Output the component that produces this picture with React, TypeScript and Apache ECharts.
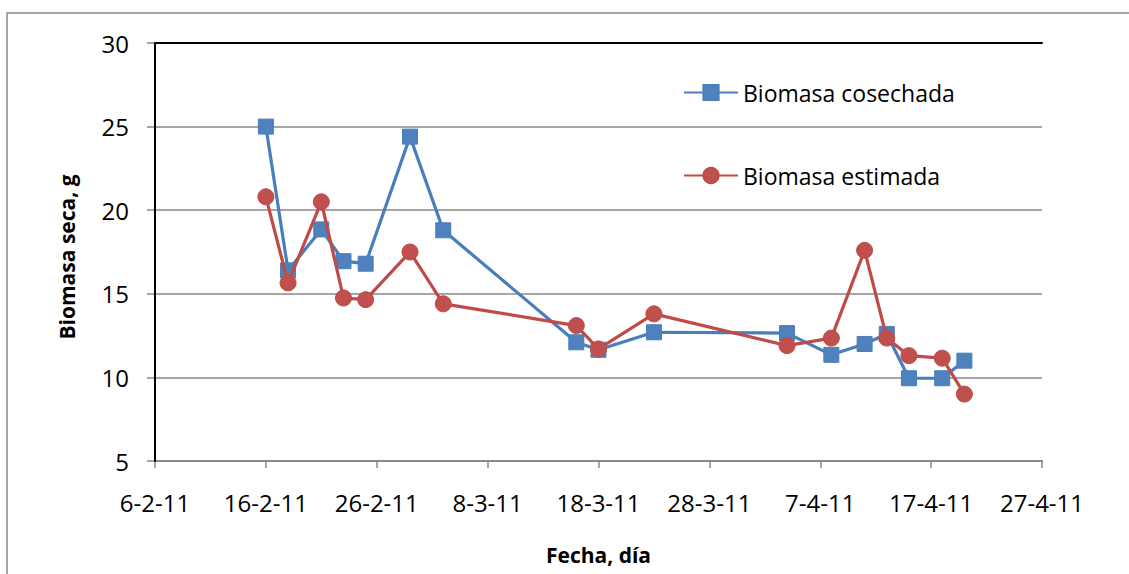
import React, { useEffect, useRef } from "react";
import * as echarts from "echarts";

const dates = ["16-2-11", "18-2-11", "21-2-11", "23-2-11", "25-2-11", "1-3-11", "4-3-11", "16-3-11", "18-3-11", "23-3-11", "4-4-11", "8-4-11", "11-4-11", "13-4-11", "15-4-11", "18-4-11", "20-4-11"];
const cosechada = [25.0, 16.4, 18.85, 16.95, 16.8, 24.4, 18.8, 12.1, 11.65, 12.7, 12.65, 11.35, 12.0, 12.6, 9.95, 9.95, 11.0];
const estimada = [20.8, 15.65, 20.5, 14.75, 14.65, 17.5, 14.4, 13.1, 11.7, 13.8, 11.9, 12.35, 17.6, 12.35, 11.3, 11.15, 9.0];
const seriesNames = ["Biomasa cosechada", "Biomasa estimada"];
const xStart = "6-2-11";
const xEnd = "27-4-11";
const xStepDays = 10;
const yMin = 5;
const yMax = 30;
const yStep = 5;

const BASE = Date.UTC(2011, 1, 6);
const DAY = 86400000;
function toDay(s: string): number {
  const [d, m, y] = s.split("-").map(Number);
  return Math.round((Date.UTC(2000 + y, m - 1, d) - BASE) / DAY);
}
function fmt(v: number): string {
  const dt = new Date(BASE + v * DAY);
  return `${dt.getUTCDate()}-${dt.getUTCMonth() + 1}-${String(dt.getUTCFullYear()).slice(2)}`;
}

const FONT = "Open Sans";
const GRAY = "#898989";

export default function App() {
  const ref = useRef<HTMLDivElement>(null);
  useEffect(() => {
    if (!ref.current) return;
    const chart = echarts.init(ref.current, undefined, { renderer: "svg" });
    const xs = dates.map(toDay);
    const frameAxisX = {
      type: "value",
      position: "top",
      min: toDay(xStart),
      max: toDay(xEnd),
      interval: xStepDays,
      z: 1,
      axisLine: { show: true, lineStyle: { color: "#000", width: 2 } },
      axisTick: { show: false },
      axisLabel: { show: false },
      splitLine: { show: false },
    };
    const frameAxisY = {
      type: "value",
      position: "right",
      min: yMin,
      max: yMax,
      interval: yStep,
      z: 1,
      axisLine: { show: true, lineStyle: { color: "#000", width: 2 } },
      axisTick: { show: false },
      axisLabel: { show: false },
      splitLine: { show: false },
    };
    const legendBase = {
      left: 683,
      padding: 0,
      itemWidth: 54,
      itemHeight: 19,
      itemGap: 0,
      textStyle: { fontFamily: FONT, fontSize: 23, color: "#000" },
    };
    chart.setOption({
      animation: false,
      backgroundColor: "#fff",
      textStyle: { fontFamily: FONT },
      grid: { left: 155, right: 87, top: 43, bottom: 113, containLabel: false },
      graphic: [
        {
          type: "rect",
          shape: { x: 7, y: 13, width: 1200, height: 700 },
          style: { fill: "none", stroke: GRAY, lineWidth: 1.5 },
          silent: true,
        },
      ],
      legend: [
        { ...legendBase, data: [seriesNames[0]], top: 81 },
        { ...legendBase, data: [seriesNames[1]], top: 164 },
      ],
      xAxis: [
        {
          type: "value",
          min: toDay(xStart),
          max: toDay(xEnd),
          interval: xStepDays,
          name: "Fecha, día",
          nameLocation: "middle",
          nameGap: 83,
          nameTextStyle: { fontFamily: FONT, fontSize: 21, fontWeight: "bold", color: "#000" },
          axisLine: { show: true, lineStyle: { color: GRAY, width: 2 } },
          axisTick: { show: true, length: 7, lineStyle: { color: GRAY, width: 1.5 } },
          axisLabel: { formatter: fmt, fontFamily: FONT, fontSize: 24, color: "#000", margin: 29 },
          splitLine: { show: false },
        },
        frameAxisX,
      ],
      yAxis: [
        {
          type: "value",
          min: yMin,
          max: yMax,
          interval: yStep,
          name: "Biomasa seca, g",
          nameLocation: "middle",
          nameGap: 78,
          nameTextStyle: { fontFamily: FONT, fontSize: 21, fontWeight: "bold", color: "#000", padding: [0, 10, 0, 0] },
          axisLine: { show: true, lineStyle: { color: GRAY, width: 2 } },
          axisTick: { show: true, length: 8, lineStyle: { color: GRAY, width: 1.5 } },
          axisLabel: { fontFamily: FONT, fontSize: 24, color: "#000", margin: 26 },
          splitLine: { show: true, lineStyle: { color: GRAY, width: 1.5 } },
        },
        frameAxisY,
      ],
      series: [
        {
          name: seriesNames[0],
          type: "line",
          data: xs.map((x, i) => [x, cosechada[i]]),
          symbol: "rect",
          symbolSize: 15,
          itemStyle: { color: "#4F81BD", borderColor: "#4A7EBB", borderWidth: 1 },
          lineStyle: { color: "#4A7EBB", width: 3.2 },
          z: 3,
        },
        {
          name: seriesNames[1],
          type: "line",
          data: xs.map((x, i) => [x, estimada[i]]),
          symbol: "circle",
          symbolSize: 16,
          itemStyle: { color: "#C0504D", borderColor: "#BE4B48", borderWidth: 1 },
          lineStyle: { color: "#BE4B48", width: 3.2 },
          z: 4,
        },
      ],
    });
    return () => chart.dispose();
  }, []);
  return <div ref={ref} style={{ position: "absolute", left: 0, top: 0, width: 1129, height: 574 }} />;
}
